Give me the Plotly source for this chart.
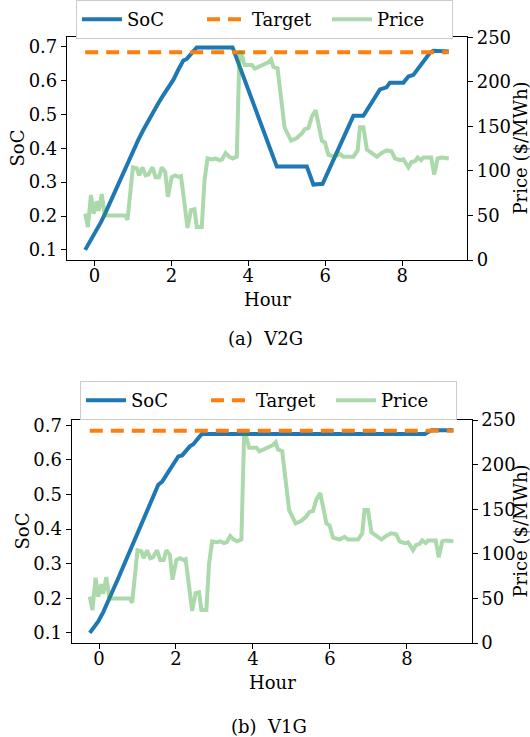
import plotly.graph_objects as go

# ---------------- data ----------------
price_hours = [-0.24, -0.17, -0.09, -0.02, 0.06, 0.11, 0.19, 0.27, 0.80, 0.86,
               1.00, 1.10, 1.16, 1.25, 1.33, 1.40, 1.51, 1.59, 1.68, 1.75,
               1.84, 1.91, 2.01, 2.10, 2.20, 2.25, 2.33, 2.42, 2.51, 2.60,
               2.66, 2.79, 2.86, 2.94, 3.06, 3.15, 3.25, 3.32, 3.41, 3.50,
               3.59, 3.70, 3.77, 3.81, 3.90, 4.09, 4.17, 4.35, 4.52, 4.59,
               4.65, 4.76, 4.94, 5.11, 5.26, 5.39, 5.47, 5.56, 5.65, 5.75,
               5.84, 5.91, 5.99, 6.08, 6.25, 6.38, 6.47, 6.73, 6.84, 6.90,
               6.99, 7.08, 7.21, 7.34, 7.46, 7.59, 7.72, 7.81, 7.94, 8.03,
               8.16, 8.24, 8.33, 8.40, 8.49, 8.55, 8.75, 8.83, 8.92, 9.02, 9.21]
price_values = [52, 37, 73, 52, 66, 55, 74, 50, 50, 45,
                104, 103, 95, 104, 95, 96, 104, 93, 93, 104,
                99, 71, 93, 95, 93, 94, 67, 36, 56, 57,
                37, 37, 89, 114, 113, 114, 112, 113, 120, 116,
                114, 116, 232, 234, 219, 219, 215, 219, 222, 225,
                217, 215, 149, 134, 137, 142, 147, 148, 161, 168,
                149, 134, 132, 118, 116, 119, 116, 116, 123, 149,
                149, 124, 120, 116, 120, 123, 122, 114, 112, 113,
                104, 110, 111, 115, 112, 115, 115, 96, 114, 115, 114]

v2g_hours = [-0.24, -0.11, 0.06, 0.17, 0.28, 0.38, 0.49, 0.62, 0.75, 0.88,
             1.01, 1.14, 1.27, 1.40, 1.53, 1.66, 1.79, 1.92, 2.05, 2.18,
             2.31, 2.40, 2.49, 2.66, 3.59, 4.74, 5.52, 5.69, 5.93,
             6.73, 6.99, 7.42, 7.59, 7.68, 8.03, 8.16, 8.29, 8.72, 8.81,
             9.06, 9.21]
v2g_soc = [0.100, 0.125, 0.159, 0.182, 0.208, 0.234, 0.262, 0.297, 0.331, 0.364,
           0.395, 0.425, 0.454, 0.482, 0.508, 0.533, 0.557, 0.580, 0.602, 0.632,
           0.659, 0.664, 0.676, 0.698, 0.698, 0.346, 0.346, 0.293, 0.295,
           0.496, 0.496, 0.574, 0.580, 0.594, 0.594, 0.612, 0.617, 0.682, 0.688,
           0.688, 0.686]

v1g_hours = [-0.24, -0.13, -0.02, 0.11, 0.24, 0.37, 0.50, 0.63, 0.76, 0.89,
             1.02, 1.15, 1.28, 1.41, 1.54, 1.64, 1.89,
             2.06, 2.16, 2.36, 2.45, 2.67, 8.47, 8.64, 9.21]
v1g_soc = [0.100, 0.115, 0.133, 0.160, 0.191, 0.224, 0.258, 0.292, 0.326, 0.360,
           0.393, 0.425, 0.456, 0.492, 0.528, 0.537, 0.581,
           0.610, 0.613, 0.639, 0.645, 0.675, 0.675, 0.686, 0.686]

target_hours = [-0.24, 9.21]
target_soc = [0.684, 0.684]

x_ticks = [0, 2, 4, 6, 8]
soc_ticks = [0.1, 0.2, 0.3, 0.4, 0.5, 0.6, 0.7]
price_ticks = [0, 50, 100, 150, 200, 250]

# ---------------- figure ----------------
W, H = 530, 737
FONT = "DejaVu Serif"
FS = 18

def px_x(p):
    return p / W

def px_y(p):
    return 1 - p / H

BLUE = "#1f77b4"
ORANGE = "#ff7f0e"
GREEN = "rgba(44,160,44,0.4)"

fig = go.Figure()

panels = [
    dict(hours=v2g_hours, soc=v2g_soc, x="x", y="y", y2="y2", legend="legend"),
    dict(hours=v1g_hours, soc=v1g_soc, x="x2", y="y3", y2="y4", legend="legend2"),
]
for p in panels:
    fig.add_trace(go.Scatter(x=p["hours"], y=p["soc"], mode="lines", name="SoC",
                             line=dict(color=BLUE, width=4), xaxis=p["x"], yaxis=p["y"],
                             legend=p["legend"]))
    fig.add_trace(go.Scatter(x=target_hours, y=target_soc, mode="lines", name="Target",
                             line=dict(color=ORANGE, width=4, dash="13px,8px"),
                             xaxis=p["x"], yaxis=p["y"], legend=p["legend"]))
    fig.add_trace(go.Scatter(x=price_hours, y=price_values, mode="lines", name="Price",
                             line=dict(color=GREEN, width=4), xaxis=p["x"], yaxis=p["y2"],
                             legend=p["legend"]))

axis_common = dict(showline=True, linecolor="black", linewidth=1.2, ticks="outside",
                   ticklen=5, tickwidth=1.2, tickcolor="black", showgrid=False,
                   zeroline=False, automargin=False,
                   tickfont=dict(family=FONT, size=FS, color="black"))

legend_common = dict(orientation="h", xanchor="left", yanchor="top",
                     bordercolor="#cccccc", borderwidth=1, bgcolor="white",
                     itemwidth=40, entrywidth=70, entrywidthmode="pixels",
                     font=dict(family=FONT, size=FS))

xr = [-0.7125, 9.6825]
fig.update_layout(
    template="none",
    width=W, height=H, margin=dict(l=0, r=0, t=0, b=0, autoexpand=False),
    paper_bgcolor="white", plot_bgcolor="white",
    font=dict(family=FONT, size=FS, color="black"),
    xaxis=dict(domain=[px_x(67), px_x(467)], anchor="y", range=xr, tickvals=x_ticks,
               mirror=True, ticklabelstandoff=-6, **axis_common),
    yaxis=dict(domain=[px_y(260), px_y(37.3)], anchor="x", range=[0.0701, 0.7279],
               tickvals=soc_ticks, tickformat=".1f", **axis_common),
    yaxis2=dict(overlaying="y", side="right", anchor="x", range=[0, 250],
                tickvals=price_ticks, **axis_common),
    xaxis2=dict(domain=[px_x(71.6), px_x(471.6)], anchor="y3", range=xr, tickvals=x_ticks,
                mirror=True, ticklabelstandoff=-6, **axis_common),
    yaxis3=dict(domain=[px_y(643), px_y(420)], anchor="x2", range=[0.0707, 0.7153],
                tickvals=soc_ticks, tickformat=".1f", **axis_common),
    yaxis4=dict(overlaying="y3", side="right", anchor="x2", range=[0, 250],
                tickvals=price_ticks, **axis_common),
    legend=dict(x=px_x(76), y=1.0, **legend_common),
    legend2=dict(x=px_x(80), y=px_y(381), **legend_common),
)

texts = [
    ("SoC", 17, 148.5, -90),
    ("Price ($/MWh)", 520, 148.5, -90),
    ("Hour", 267, 299, 0),
    ("(a)\u00a0 V2G", 265, 338, 0),
    ("SoC", 22, 531.5, -90),
    ("Price ($/MWh)", 520, 531.5, -90),
    ("Hour", 272, 682.6, 0),
    ("(b)\u00a0 V1G", 269, 726.6, 0),
]
for t, x, y, ang in texts:
    fig.add_annotation(text=t, x=px_x(x), y=px_y(y), xref="paper", yref="paper",
                       xanchor="center", yanchor="middle", showarrow=False,
                       textangle=ang, font=dict(family=FONT, size=FS, color="black"))

fig.write_html("out.html")
